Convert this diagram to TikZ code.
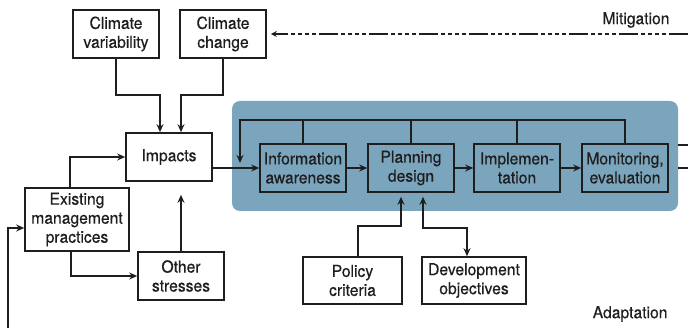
\documentclass[tikz,border=0pt]{standalone}
\usepackage{fontspec}
\setmainfont{TeX Gyre Heros}[FakeStretch=0.95, FakeBold=0.4]
\usetikzlibrary{arrows.meta}
\definecolor{panel}{HTML}{7BA5BD}
\definecolor{ink}{HTML}{1E1E1E}
\begin{document}
\begin{tikzpicture}[x=1pt, y=-1pt, font=\fontsize{16.5}{19}\selectfont,
  box/.style = {draw=ink, line width=1.6pt, fill=white, text=ink, align=center,
                minimum width=86pt, minimum height=48pt, inner sep=1pt},
  stage/.style = {box, fill=panel},
  line/.style = {draw=ink, line width=1.5pt},
  link/.style = {line, -{Stealth[length=8pt,width=7pt]}},
  twoway/.style = {line, {Stealth[length=8pt,width=7pt]}-{Stealth[length=8pt,width=7pt]}},
  dashline/.style = {draw=ink, line width=1.3pt, -{Stealth[length=6pt,width=6pt]},
                dash pattern=on 19pt off 3pt on 4pt off 3pt on 4pt off 3pt on 4pt off 3pt on 4pt off 3pt}]
\useasboundingbox (0,0) rectangle (688,328);
% adaptation panel
\node[fill=panel, rounded corners=8pt, minimum width=446pt, minimum height=110pt, inner sep=0pt] (bg) at (455,156) {};
% boxes
\node[box] (var) at (116,34) {Climate\\variability};
\node[box] (change) at (223,34) {Climate\\change};
\node[box] (imp) at (169,157) {Impacts};
\node[box, minimum width=104pt, minimum height=63pt] (emp) at (77,219.5) {Existing\\management\\practices};
\node[box] (os) at (181,276) {Other\\stresses};
\node[stage] (info) at (303,168) {Information\\awareness};
\node[stage] (plan) at (411,168) {Planning\\design};
\node[stage] (impl) at (517,168) {Implemen-\\tation};
\node[stage] (mon) at (625,168) {Monitoring,\\evaluation};
\node[box, minimum width=99pt, minimum height=47pt] (pol) at (352.5,280.5) {Policy\\criteria};
\node[box, minimum width=104pt, minimum height=47pt] (dev) at (474,280.5) {Development\\objectives};
\node[anchor=east, text=ink] (mitlab) at (673,20) {Mitigation};
\node[anchor=east, text=ink] (adlab) at (671,314) {Adaptation};
% free ends
\coordinate (mitig) at (688,34);
\coordinate (fb) at (8,328);
\coordinate (loop) at (240,120);
\coordinate (r1) at (688,145);
\coordinate (r2) at (688,168);
% connectors
\draw[link] (var.south) -- ++(0,36) -| ([xshift=-9pt]imp.north);
\draw[link] (change.south) -- ++(0,36) -| ([xshift=12pt]imp.north);
\draw[link] ([xshift=-7pt]emp.north) |- (imp.west);
\draw[link] ([xshift=-6pt]emp.south) |- (os.west);
\draw[link, shorten >=13pt] (os.north) -- (os.north |- imp.south);
\draw[link] (fb) |- ([yshift=-8.5pt]emp.west);
\draw[link] ([yshift=-11pt]imp.east) -- (info.west);
\draw[link] (info) -- (plan);
\draw[link] (plan) -- (impl);
\draw[link] (impl) -- (mon);
\draw[link] (mon.north) |- (loop) -- ++(0,43);
\foreach \n in {info,plan,impl}
  \draw[line] (\n.north) -- (\n.north |- loop);
\draw[link, shorten >=4pt] ([xshift=5.5pt]pol.north) -- ++(0,-30) -| ([xshift=-10pt]plan.south);
\draw[twoway, shorten <=4pt] ([xshift=12pt]plan.south) -- ++(0,35) -| ([xshift=-7pt]dev.north);
\draw[line] (r1 -| bg.east) -- (r1);
\draw[line] (r2 -| bg.east) -- (r2);
\draw[dashline] (mitig) -- ([xshift=4pt]change.east);
\end{tikzpicture}
\end{document}
